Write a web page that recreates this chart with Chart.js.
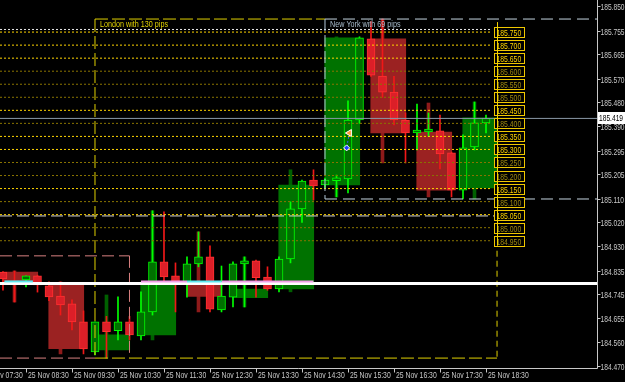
<!DOCTYPE html>
<html>
<head>
<meta charset="utf-8">
<script src="https://cdn.jsdelivr.net/npm/chart.js@4.4.0/dist/chart.umd.min.js"></script>
<style>
  html, body { margin: 0; padding: 0; background: #000; }
  #wrap { width: 625px; height: 382px; }
</style>
</head>
<body>
<div id="wrap"><canvas id="chart"></canvas></div>
<script>
// M15 candles of 25 Nov, time in decimal hours
const times  = [8.0, 8.25, 8.5, 8.75, 9.0, 9.25, 9.5, 9.75, 10.0, 10.25, 10.5, 10.75,
                11.0, 11.25, 11.5, 11.75, 12.0, 12.25, 12.5, 12.75, 13.0, 13.25, 13.5, 13.75,
                14.0, 14.25, 14.5, 14.75, 15.0, 15.25, 15.5, 15.75, 16.0, 16.25, 16.5, 16.75,
                17.0, 17.25, 17.5, 17.75, 18.0, 18.25, 18.5];
const opens  = [184.830, 184.795, 184.800, 184.815, 184.777, 184.738, 184.708, 184.639, 184.524, 184.639, 184.605, 184.639,
                184.585, 184.677, 184.869, 184.815, 184.788, 184.861, 184.888, 184.685, 184.734, 184.861, 184.873, 184.811,
                184.765, 184.880, 185.072, 185.183, 185.164, 185.180, 185.187, 185.413, 185.724, 185.581, 185.520, 185.413,
                185.363, 185.367, 185.371, 185.287, 185.144, 185.310, 185.402];
const highs  = [184.832, 184.834, 184.815, 184.818, 184.792, 184.792, 184.723, 184.681, 184.639, 184.660, 184.735, 184.660,
                184.754, 185.065, 185.061, 184.865, 184.888, 184.984, 184.930, 184.853, 184.869, 184.888, 184.876, 184.850,
                184.888, 185.099, 185.183, 185.222, 185.190, 185.202, 185.486, 185.732, 185.790, 185.800, 185.580, 185.440,
                185.474, 185.440, 185.432, 185.290, 185.356, 185.482, 185.432];
const lows   = [184.760, 184.715, 184.773, 184.753, 184.720, 184.665, 184.608, 184.516, 184.512, 184.500, 184.570, 184.570,
                184.570, 184.665, 184.788, 184.677, 184.734, 184.850, 184.677, 184.677, 184.696, 184.696, 184.734, 184.760,
                184.754, 184.865, 185.020, 185.106, 185.150, 185.118, 185.133, 185.400, 185.580, 185.500, 185.394, 185.248,
                185.298, 185.350, 185.225, 185.118, 185.110, 185.298, 185.363];
const closes = [184.804, 184.785, 184.815, 184.781, 184.735, 184.704, 184.639, 184.535, 184.639, 184.601, 184.639, 184.589,
                184.677, 184.869, 184.811, 184.792, 184.861, 184.888, 184.688, 184.738, 184.861, 184.873, 184.808, 184.765,
                184.880, 185.072, 185.179, 185.160, 185.183, 185.183, 185.413, 185.728, 185.585, 185.520, 185.413, 185.363,
                185.367, 185.371, 185.283, 185.144, 185.306, 185.402, 185.419];

// H1 candles drawn behind as boxes
const hourTimes  = [8, 9, 10, 11, 12, 13, 14, 15, 16, 17, 18];
const hourOpens  = [184.830, 184.781, 184.531, 184.589, 184.786, 184.732, 184.765, 185.164, 185.724, 185.367, 185.152];
const hourHighs  = [184.834, 184.792, 184.742, 185.065, 184.984, 184.888, 185.222, 185.732, 185.800, 185.478, 185.482];
const hourLows   = [184.715, 184.516, 184.500, 184.570, 184.677, 184.696, 184.754, 185.118, 185.248, 185.118, 185.110];
const hourCloses = [184.792, 184.536, 184.589, 184.792, 184.736, 184.765, 185.163, 185.728, 185.363, 185.144, 185.421];

// axis ticks
const priceTicks = [185.850, 185.755, 185.665, 185.570, 185.480, 185.390, 185.295, 185.205,
                    185.110, 185.020, 184.930, 184.835, 184.745, 184.655, 184.560, 184.470];
const timeTicks  = [7.5, 8.5, 9.5, 10.5, 11.5, 12.5, 13.5, 14.5, 15.5, 16.5, 17.5, 18.5];
const timeLabels = ["25 Nov 07:30", "25 Nov 08:30", "25 Nov 09:30", "25 Nov 10:30", "25 Nov 11:30", "25 Nov 12:30",
                    "25 Nov 13:30", "25 Nov 14:30", "25 Nov 15:30", "25 Nov 16:30", "25 Nov 17:30", "25 Nov 18:30"];

// horizontal levels every 5 pips
const levelPrices = [185.750, 185.700, 185.650, 185.600, 185.550, 185.500, 185.450, 185.400, 185.350,
                     185.300, 185.250, 185.200, 185.150, 185.100, 185.050, 185.000, 184.950];
const levelBright = [true, true, true, false, false, false, true, false, true,
                     true, false, false, true, false, true, false, false];

// sessions
const londonStart = 10.0, londonEnd = 18.74, londonHigh = 185.800, londonLow = 184.500;
const nyStart = 15.0, nyHigh = 185.800, nyLow = 185.110;
const asiaEnd = 10.75, asiaHigh = 184.892, asiaLow = 184.500;

const dailyLevel = 184.786;
const whiteDotLevel = 185.760;
const whiteDashLevel = 185.045;
const bid = 185.419;
const cyanBands = [[8.03, 8.65], [12.0, 12.75]];
const pinkBands = [[11.0, 12.0], [12.75, 14.75]];
const bandLevel = 184.794;
const markTimes = [15.53, 15.47];
const markPrices = [185.363, 185.306];

const xMin = 7.935, xMax = 20.913, yMin = 184.462, yMax = 185.873;
const levelEnd = 18.587, tagTime = 18.674, whiteDashEnd = 18.70;

const FONT = "'Liberation Sans', Arial, sans-serif";
const AXIS = "#c8c8c8";

function seg(x0, y0, x1, y1) {
    return [{ x: x0, y: y0 }, { x: x1, y: y1 }];
}
function lineDs(data, color, width, dash, order) {
    return {
        type: "line", data: data, borderColor: color, borderWidth: width,
        borderDash: dash, pointRadius: 0, fill: false, tension: 0, order: order,
    };
}
// narrow text, like the terminal's small font
function narrowText(ctx, str, x, y, size, squeeze) {
    ctx.save();
    ctx.translate(x, y);
    ctx.scale(squeeze, 1);
    ctx.font = size + "px " + FONT;
    ctx.fillText(str, 0, 0);
    ctx.restore();
}

const up = times.map((t, i) => closes[i] >= opens[i]);
const hourUp = hourTimes.map((t, i) => hourCloses[i] >= hourOpens[i]);

const datasets = [
    {
        data: hourTimes.map((t, i) => ({ x: t + 0.25, y: [hourLows[i], hourHighs[i]] })),
        backgroundColor: hourUp.map((u) => (u ? "#006000" : "#8e1a1a")),
        barThickness: 3, grouped: false, order: 30,
    },
    {
        data: hourTimes.map((t, i) => ({ x: t + 0.375, y: [hourOpens[i], hourCloses[i]] })),
        backgroundColor: hourUp.map((u) => (u ? "#007200" : "#9b2222")),
        barThickness: 35, grouped: false, order: 29,
    },
    {
        data: times.map((t, i) => ({ x: t, y: [lows[i], highs[i]] })),
        backgroundColor: up.map((u) => (u ? "#00ff00" : "#f01818")),
        barThickness: 1, grouped: false, order: 21,
    },
    {
        data: times.map((t, i) => ({ x: t, y: [opens[i], closes[i]] })),
        backgroundColor: up.map((u) => (u ? "#007000" : "#dc1f28")),
        borderColor: up.map((u) => (u ? "#00ff00" : "#ff3030")),
        borderWidth: 1, borderSkipped: false, minBarLength: 3,
        barThickness: 8, grouped: false, order: 20,
    },
];

levelPrices.forEach((p, i) => {
    datasets.push(lineDs(seg(xMin, p, levelEnd, p), levelBright[i] ? "#ffd400" : "#8a7400", 1, [2, 2], 12));
});
datasets.push(lineDs(seg(xMin, whiteDotLevel, levelEnd, whiteDotLevel), "#e8e8e8", 1, [2, 2], 13));
datasets.push(lineDs(seg(xMin, whiteDashLevel, whiteDashEnd, whiteDashLevel), "#d8d8d8", 1, [12, 5], 13));

// asia box
datasets.push(lineDs(seg(xMin, asiaHigh, asiaEnd, asiaHigh), "#d88080", 1, [12, 5], 11));
datasets.push(lineDs(seg(asiaEnd, asiaHigh, asiaEnd, asiaLow), "#d88080", 1, [12, 5], 11));
datasets.push(lineDs(seg(xMin, asiaLow, londonStart, asiaLow), "#d88080", 1, [12, 5], 11));
// london box
datasets.push(lineDs(seg(londonStart, londonHigh, nyStart, londonHigh), "#e0d000", 1, [13, 4], 10));
datasets.push(lineDs(seg(londonStart, londonHigh, londonStart, londonLow), "#e0d000", 1, [13, 4], 10));
datasets.push(lineDs(seg(londonStart, londonLow, londonEnd, londonLow), "#e0d000", 1, [13, 4], 10));
datasets.push(lineDs(seg(londonEnd, levelPrices[levelPrices.length - 1], londonEnd, londonLow), "#e0d000", 1, [6, 4], 10));
// new york box
datasets.push(lineDs(seg(nyStart, nyHigh, xMax, nyHigh), "#c4d4e0", 1, [12, 6], 9));
datasets.push(lineDs(seg(nyStart, nyHigh, nyStart, nyLow), "#b4c8d8", 1, [12, 4], 9));
datasets.push(lineDs(seg(nyStart, nyLow, xMax, nyLow), "#c4d4e0", 1, [12, 6], 9));

datasets.push(lineDs(seg(xMin, dailyLevel, xMax, dailyLevel), "#ffffff", 3, [], 6));
cyanBands.forEach((b) => datasets.push(lineDs(seg(b[0], bandLevel, b[1], bandLevel), "#5ee8f0", 2, [], 5)));
pinkBands.forEach((b) => datasets.push(lineDs(seg(b[0], bandLevel, b[1], bandLevel), "#f0a0e8", 2, [], 5)));
datasets.push(lineDs(seg(xMin, bid, xMax, bid), "#8a98a6", 1, [], 4));

datasets.push(lineDs(seg(markTimes[0], markPrices[0], markTimes[1], markPrices[1]), "#3050ff", 1, [2, 2], 3));
datasets.push({
    type: "scatter",
    data: markTimes.map((t, i) => ({ x: t, y: markPrices[i] })),
    pointStyle: ["triangle", "rectRot"],
    rotation: [-90, 0],
    pointRadius: [4, 3],
    backgroundColor: ["#ff9a30", "#2040ff"],
    borderColor: ["#ffffff", "#ffffff"],
    borderWidth: 1,
    order: 1,
});

// MT4 style axes, drawn from the chart's own scales
function drawAxes(chart) {
    const { ctx, chartArea, scales } = chart;
    const x = scales.x, y = scales.y;
    const r = Math.round(chartArea.right) + 0.5;
    const b = Math.round(chartArea.bottom) + 0.5;
    ctx.save();
    ctx.strokeStyle = AXIS;
    ctx.lineWidth = 1;
    ctx.beginPath();
    ctx.moveTo(r, 0);
    ctx.lineTo(r, b);
    ctx.lineTo(0, b);
    ctx.stroke();

    ctx.fillStyle = AXIS;
    ctx.textAlign = "left";
    ctx.textBaseline = "middle";
    priceTicks.forEach((p) => {
        const py = Math.round(y.getPixelForValue(p)) + 0.5;
        ctx.beginPath();
        ctx.moveTo(r, py);
        ctx.lineTo(r + 3, py);
        ctx.stroke();
        narrowText(ctx, p.toFixed(3), r + 3, py + 0.5, 9.5, 0.7);
    });

    ctx.textBaseline = "top";
    timeTicks.forEach((t, i) => {
        const px = Math.round(x.getPixelForValue(t)) + 0.5;
        ctx.beginPath();
        ctx.moveTo(px, b);
        ctx.lineTo(px, b + 4);
        ctx.stroke();
        narrowText(ctx, timeLabels[i], px + 1.5, b + 2.5, 9.5, 0.72);
    });
    ctx.restore();
}

const overlay = {
    id: "overlay",
    beforeDraw(chart) {
        const ctx = chart.ctx;
        ctx.save();
        ctx.fillStyle = "#000";
        ctx.fillRect(0, 0, chart.width, chart.height);
        ctx.restore();
    },
    afterDatasetsDraw(chart) {
        const { ctx, scales } = chart;
        const x = scales.x, y = scales.y;
        ctx.save();
        ctx.textBaseline = "top";
        ctx.fillStyle = "#e0d000";
        narrowText(ctx, "London with 130 pips", x.getPixelForValue(londonStart) + 5, y.getPixelForValue(londonHigh) + 1, 9, 0.8);
        ctx.fillStyle = "#a8bccc";
        narrowText(ctx, "New York with 69 pips", x.getPixelForValue(nyStart) + 5, y.getPixelForValue(nyHigh) + 1, 9, 0.8);

        ctx.textBaseline = "middle";
        const tx = Math.round(x.getPixelForValue(tagTime)) + 0.5;
        levelPrices.forEach((p, i) => {
            const py = Math.round(y.getPixelForValue(p)) + 0.5;
            ctx.fillStyle = "#000";
            ctx.fillRect(tx, py - 5, 30, 10);
            ctx.strokeStyle = "#f0c800";
            ctx.lineWidth = 1;
            ctx.strokeRect(tx, py - 5, 30, 10);
            ctx.fillStyle = levelBright[i] ? "#ffd400" : "#a08a10";
            narrowText(ctx, p.toFixed(3), tx + 2, py + 0.5, 9.5, 0.72);
        });
        const vx = Math.round(x.getPixelForValue(londonEnd)) + 0.5;
        ctx.strokeStyle = "#f0d000";
        ctx.beginPath();
        ctx.moveTo(vx, y.getPixelForValue(levelPrices[0]) - 10);
        ctx.lineTo(vx, y.getPixelForValue(levelPrices[levelPrices.length - 1]) + 5);
        ctx.stroke();
        ctx.restore();
    },
    afterDraw(chart) {
        drawAxes(chart);
        const { ctx, scales, chartArea } = chart;
        const py = Math.round(scales.y.getPixelForValue(bid));
        ctx.save();
        ctx.fillStyle = "#ffffff";
        ctx.fillRect(chartArea.right + 1, py - 6, chart.width - chartArea.right - 1, 12);
        ctx.fillStyle = "#000000";
        ctx.textBaseline = "middle";
        narrowText(ctx, bid.toFixed(3), chartArea.right + 2, py + 0.5, 9.5, 0.7);
        ctx.restore();
    },
};

new Chart(document.getElementById("chart"), {
    type: "bar",
    data: { datasets: datasets },
    options: {
        responsive: true,
        maintainAspectRatio: false,
        animation: false,
        events: [],
        layout: { autoPadding: false, padding: { left: 0, top: 0, right: 28, bottom: 14 } },
        plugins: { legend: { display: false }, tooltip: { enabled: false } },
        scales: {
            x: { type: "linear", display: false, offset: false, grid: { offset: false }, min: xMin, max: xMax },
            y: { type: "linear", display: false, offset: false, min: yMin, max: yMax },
        },
    },
    plugins: [overlay],
});
</script>
</body>
</html>
